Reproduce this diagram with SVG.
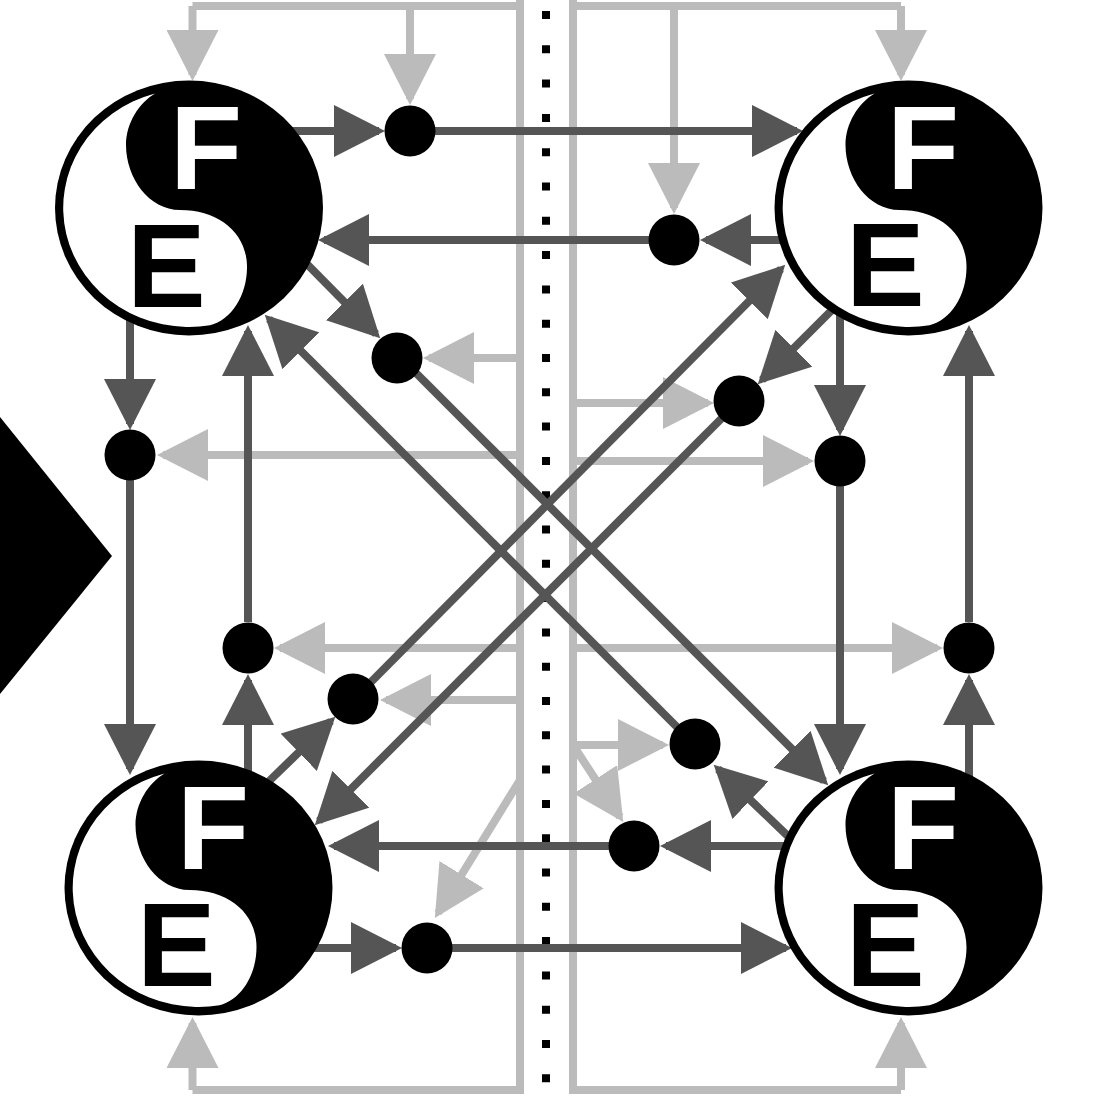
<svg xmlns="http://www.w3.org/2000/svg" width="1102" height="1102" viewBox="0 0 1102 1102">
<style>
.d{fill:none;stroke:#555;stroke-width:8;marker-end:url(#ad)}
.l{fill:none;stroke:#bbb;stroke-width:8}
.la{marker-end:url(#al)}
.dot{fill:#000}
.o{fill:#000}
.w{fill:#fff}
.t{font-family:"Liberation Sans",Arial,sans-serif;font-weight:700;font-size:118px}
</style>
<defs>
<marker id="ad" markerUnits="userSpaceOnUse" markerWidth="52" markerHeight="52" refX="45" refY="26" orient="auto"><path d="M0,0L51,26L0,52Z" fill="#555"/></marker>
<marker id="al" markerUnits="userSpaceOnUse" markerWidth="52" markerHeight="52" refX="45" refY="26" orient="auto"><path d="M0,0L51,26L0,52Z" fill="#bbb"/></marker>
<g id="yy"><ellipse class="o" cx="0" cy="0" rx="134" ry="127.500"/><path class="w" d="M-34,-114.600A126,119 0 0 0 21,117.300C42,112 58,88 58,59C58,25 30,2 -9,2C-40,2 -63,-30 -63,-63C-63,-85 -50,-105 -34,-114.600Z"/></g>
</defs>
<rect width="1102" height="1102" fill="#fff"/>
<polygon id="diamond" points="0,417 112,556 0,694" fill="#000"/>
<line id="centre" x1="546" y1="11" x2="546" y2="1086" stroke="#000" stroke-width="8" stroke-dasharray="8 26.300"/>
<g id="connectors">
<path class="l" d="M520,0V1090H192.500M573,0V1090H901M192.500,6H520M573,6H901"/>
<path class="l la" d="M192.500,6V75"/><path class="l la" d="M410,6V99"/><path class="l la" d="M901,6V75"/><path class="l la" d="M674,6V208"/>
<path class="l la" d="M192.500,1090V1023"/><path class="l la" d="M901,1090V1023"/>
<path class="l la" d="M520,358H429"/><path class="l la" d="M520,455H163"/><path class="l la" d="M520,648H280"/><path class="l la" d="M520,700H386"/><path class="l la" d="M520,780L438,913"/>
<path class="l la" d="M573,403H708"/><path class="l la" d="M573,461H808"/><path class="l la" d="M573,648H937"/><path class="l la" d="M573,745H663"/><path class="l la" d="M573,745L620,817"/>
<path class="d" d="M285,131H379"/><path class="d" d="M435,131H797"/><path class="d" d="M792,240H706"/><path class="d" d="M650,240H324"/>
<path class="d" d="M300,257L376,334"/><path class="d" d="M415,372L824,781"/><path class="d" d="M792,840L718,769"/><path class="d" d="M680,730L269,319"/>
<path class="d" d="M838,304L762,380"/><path class="d" d="M722,418L319,821"/><path class="d" d="M262,788L331,721"/><path class="d" d="M370,683L781,269"/>
<path class="d" d="M130,318V424"/><path class="d" d="M130,480V769"/><path class="d" d="M248,775V680"/><path class="d" d="M248,622V331"/>
<path class="d" d="M840,315V430"/><path class="d" d="M840,486V769"/><path class="d" d="M969,785V680"/><path class="d" d="M969,622V331"/>
<path class="d" d="M795,846H666"/><path class="d" d="M610,846H334"/><path class="d" d="M305,948H396"/><path class="d" d="M452,948H786"/>
</g>
<g id="node-tl"><use href="#yy" x="189" y="208"/><text class="t" x="170" y="189" fill="#fff">F</text><text class="t" x="127" y="307" fill="#000">E</text></g>
<g id="node-tr"><use href="#yy" x="908.500" y="208"/><text class="t" x="887" y="189" fill="#fff">F</text><text class="t" x="846" y="306" fill="#000">E</text></g>
<g id="node-bl"><use href="#yy" x="198.500" y="888"/><text class="t" x="177" y="869" fill="#fff">F</text><text class="t" x="137" y="986" fill="#000">E</text></g>
<g id="node-br"><use href="#yy" x="908.500" y="888"/><text class="t" x="887" y="869" fill="#fff">F</text><text class="t" x="846" y="986" fill="#000">E</text></g>
<g id="junctions">
<circle id="j1" class="dot" cx="410" cy="131" r="25.500"/><circle id="j2" class="dot" cx="674" cy="240" r="25.500"/><circle id="j3" class="dot" cx="397" cy="358" r="25.500"/><circle id="j4" class="dot" cx="739" cy="401" r="25.500"/><circle id="j5" class="dot" cx="130" cy="455" r="25.500"/><circle id="j6" class="dot" cx="840" cy="461" r="25.500"/><circle id="j7" class="dot" cx="248" cy="648" r="25.500"/><circle id="j8" class="dot" cx="969" cy="648" r="25.500"/><circle id="j9" class="dot" cx="353" cy="699" r="25.500"/><circle id="j10" class="dot" cx="695" cy="744" r="25.500"/><circle id="j11" class="dot" cx="634" cy="846" r="25.500"/><circle id="j12" class="dot" cx="427" cy="948" r="25.500"/>
</g>
</svg>
